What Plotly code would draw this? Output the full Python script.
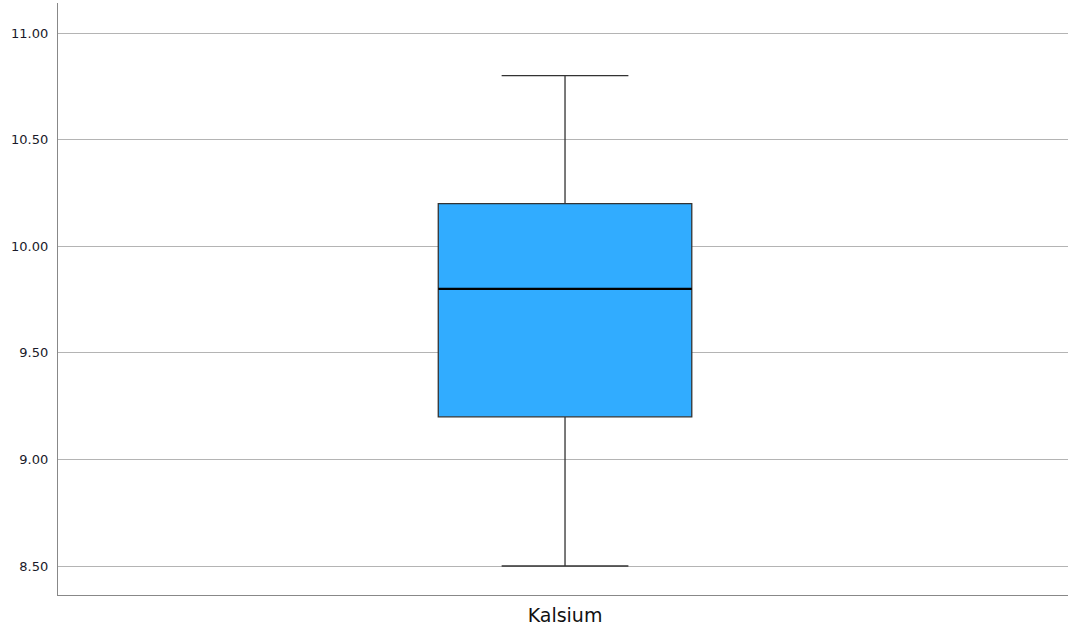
import plotly.graph_objects as go

category = ["Kalsium"]
q1 = [9.2]
median = [9.8]
q3 = [10.2]
lower_whisker = [8.5]
upper_whisker = [10.8]
y_tick_vals = [8.5, 9.0, 9.5, 10.0, 10.5, 11.0]
y_tick_text = ["8.50", "9.00", "9.50", "10.00", "10.50", "11.00"]

box_w = 0.251
xpos = [0]

fig = go.Figure()
fig.add_trace(go.Box(
    x=xpos, q1=q1, median=median, q3=q3,
    lowerfence=lower_whisker, upperfence=upper_whisker,
    width=box_w, whiskerwidth=0.5,
    fillcolor="#31ACFF",
    line=dict(color="#333333", width=1.3),
    boxpoints=False, hoverinfo="skip", showlegend=False,
))
# thicker median line (as in reference)
fig.add_trace(go.Scatter(
    x=[xpos[0] - box_w / 2, xpos[0] + box_w / 2], y=[median[0], median[0]],
    mode="lines", line=dict(color="#000000", width=2.4),
    hoverinfo="skip", showlegend=False,
))

fig.update_layout(
    width=1070, height=630,
    margin=dict(l=58, r=2, t=3, b=35),
    paper_bgcolor="white", plot_bgcolor="white",
    font=dict(family="DejaVu Sans", color="#1a1a2a"),
    xaxis=dict(
        range=[-0.502, 0.498], tickvals=xpos, ticktext=category,
        showgrid=False, zeroline=False,
        showline=True, linecolor="#888888", linewidth=1.2,
        ticks="", tickfont=dict(size=19, color="#111111"),
        ticklabelstandoff=3,
    ),
    yaxis=dict(
        range=[8.364, 11.141], tickvals=y_tick_vals, ticktext=y_tick_text,
        showgrid=True, gridcolor="#b4b4b4", gridwidth=1, zeroline=False,
        showline=True, linecolor="#888888", linewidth=1.2,
        ticks="", tickfont=dict(size=13, color="#1a1a2a"),
        ticklabelstandoff=6,
    ),
)

fig.write_html(
    "out.html",
    config={"displayModeBar": False},
    post_script="document.body.style.margin='0';document.body.style.overflow='hidden';",
)
